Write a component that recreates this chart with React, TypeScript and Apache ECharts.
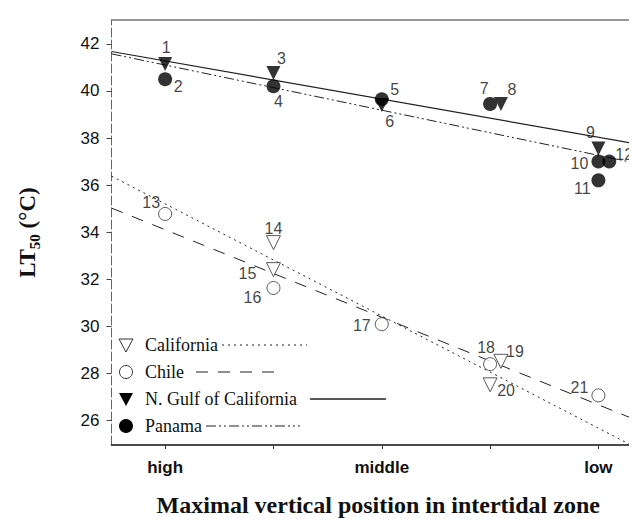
import React, { useEffect, useRef } from "react";
import * as echarts from "echarts";

// ---- data ----
const xCategories: Record<number, string> = { 1: "high", 3: "middle", 5: "low" };
const xTicks = [1, 2, 3, 4, 5];
const yTicks = [26, 28, 30, 32, 34, 36, 38, 40, 42];

// [x position, LT50, point id]
const california = [
  [2, 33.55, 14],
  [2, 32.4, 15],
  [4.1, 28.5, 19],
  [4, 27.5, 20],
];
const chile = [
  [1, 34.77, 13],
  [2, 31.62, 16],
  [3, 30.08, 17],
  [4, 28.38, 18],
  [5, 27.05, 21],
];
const nGulf = [
  [1, 41.15, 1],
  [2, 40.77, 3],
  [3, 39.4, 6],
  [4.1, 39.45, 8],
  [5, 37.55, 9],
];
const panama = [
  [1, 40.5, 2],
  [2, 40.2, 4],
  [3, 39.65, 5],
  [4, 39.45, 7],
  [5, 37.0, 10],
  [5, 36.2, 11],
  [5.1, 37.0, 12],
];

// regression lines (end points)
const californiaFit = [[0.505, 36.38], [5.3, 24.94]];
const chileFit = [[0.505, 35.02], [5.43, 25.85]];
const nGulfFit = [[0.505, 41.68], [5.43, 37.68]];
const panamaFit = [[0.505, 41.58], [5.43, 36.85]];

const seriesNames = ["California", "Chile", "N. Gulf of California", "Panama"];

// label offsets (style)
const labelOffsets: Record<number, [number, number]> = {
  1: [1, -16], 2: [13, 7], 3: [8, -14], 4: [5, 15], 5: [13, -10], 6: [8, 16],
  7: [-6, -15], 8: [11, -14], 9: [-8, -16], 10: [-19, 2], 11: [-16, 8], 12: [15, -7],
  13: [-14, -11], 14: [0, -14], 15: [-26, 4], 16: [-21, 10], 17: [-20, 1],
  18: [-4, -17], 19: [14, -10], 20: [16, 6], 21: [-19, -8],
};

const SANS = "Liberation Sans, Arial, sans-serif";
const SERIF = "Liberation Serif, Times New Roman, serif";
const INK = "#111";

function pts(arr: number[][]) {
  return arr.map((d) => ({
    value: [d[0], d[1]],
    label: {
      show: true,
      formatter: String(d[2]),
      position: "inside",
      offset: labelOffsets[d[2]],
      fontFamily: SANS,
      fontSize: 16,
      color: INK,
    },
  }));
}

export default function App() {
  const ref = useRef<HTMLDivElement>(null);
  useEffect(() => {
    if (!ref.current) return;
    const chart = echarts.init(ref.current, null, { renderer: "svg" });
    const xMin = 0.505, xMax = 5.43, yMin = 24.94, yMax = 43.02;

    const legendRows = [
      { y: 337, name: seriesNames[0], kind: "openTri", x1: 214, x2: 299, dash: [2, 4], w: 1 },
      { y: 364, name: seriesNames[1], kind: "openCircle", x1: 188, x2: 272, dash: [12, 10], w: 1 },
      { y: 391, name: seriesNames[2], kind: "tri", x1: 302, x2: 378, dash: null, w: 1.4 },
      { y: 418, name: seriesNames[3], kind: "circle", x1: 198, x2: 292, dash: [10, 3, 2, 3, 2, 3], w: 1 },
    ];
    const graphics: any[] = [];
    legendRows.forEach((r) => {
      const cx = 118;
      if (r.kind === "openTri" || r.kind === "tri") {
        graphics.push({
          type: "polygon",
          shape: { points: [[cx - 7, r.y - 6], [cx + 7, r.y - 6], [cx, r.y + 7]] },
          style: r.kind === "tri" ? { fill: "#000" } : { fill: "#fff", stroke: "#333", lineWidth: 1 },
        });
      } else {
        graphics.push({
          type: "circle",
          shape: { cx, cy: r.y, r: r.kind === "circle" ? 7 : 6.5 },
          style: r.kind === "circle" ? { fill: "#000" } : { fill: "#fff", stroke: "#333", lineWidth: 1 },
        });
      }
      graphics.push({
        type: "text",
        x: 137,
        y: r.y,
        style: { text: r.name, font: `18px ${SERIF}`, fill: INK, verticalAlign: "middle", textAlign: "left" },
      });
      graphics.push({
        type: "line",
        shape: { x1: r.x1, y1: r.y, x2: r.x2, y2: r.y },
        style: { stroke: "#222", lineWidth: r.w, lineDash: r.dash || undefined },
      });
    });

    const fitSeries = (name: string, data: number[][], type: any, width: number) => ({
      name: name + " fit",
      type: "line",
      data,
      symbol: "none",
      silent: true,
      lineStyle: { color: "#222", width, type },
      z: 1,
    });

    const scatter = (name: string, data: number[][], kind: string) => ({
      name,
      type: "scatter",
      data: pts(data),
      symbol: kind.includes("Tri") || kind === "tri" ? "triangle" : "circle",
      symbolRotate: kind.includes("Tri") || kind === "tri" ? 180 : 0,
      symbolSize: kind === "openCircle" ? 13 : 14,
      itemStyle:
        kind === "tri" || kind === "circle"
          ? { color: "#000" }
          : { color: "#fff", borderColor: "#333", borderWidth: 1 },
      z: 3,
    });

    chart.setOption({
      animation: false,
      backgroundColor: "#fff",
      grid: { left: 100, right: 0, top: 12, bottom: 82 },
      xAxis: [
        {
          type: "value",
          min: xMin,
          max: xMax,
          splitLine: { show: false },
          axisLine: { show: true, lineStyle: { color: "#111", width: 1.5 } },
          axisTick: { show: true, customValues: xTicks, length: 4, lineStyle: { color: "#333" } },
          axisLabel: {
            customValues: [1, 3, 5],
            formatter: (v: number) => xCategories[Math.round(v)] || "",
            fontFamily: SANS,
            fontWeight: "bold",
            fontSize: 17,
            color: INK,
            margin: 14,
          },
          name: "Maximal vertical position in intertidal zone",
          nameLocation: "middle",
          nameGap: 48,
          nameTextStyle: { fontFamily: SERIF, fontWeight: "bold", fontSize: 24, color: INK },
        },
        {
          type: "value",
          position: "top",
          min: xMin,
          max: xMax,
          splitLine: { show: false },
          axisLine: { show: true, lineStyle: { color: "#777", width: 1.5 } },
          axisTick: { show: false },
          axisLabel: { show: false },
        },
      ],
      yAxis: {
        type: "value",
        min: yMin,
        max: yMax,
        splitLine: { show: false },
        axisLine: { show: true, lineStyle: { color: "#666", width: 1, type: [9, 3] } },
        axisTick: { show: true, customValues: yTicks, length: 5, lineStyle: { color: "#444" } },
        axisLabel: { customValues: yTicks, fontFamily: SANS, fontSize: 17, color: INK, margin: 12 },
        name: "{b|LT}{s|50}{b| (°C)}",
        nameLocation: "middle",
        nameGap: 69,
        nameRotate: 90,
        nameTextStyle: {
          rich: {
            b: { fontFamily: SERIF, fontWeight: "bold", fontSize: 23, color: INK, lineHeight: 30 },
            s: { fontFamily: SERIF, fontWeight: "bold", fontSize: 15, color: INK, lineHeight: 15, verticalAlign: "bottom" },
          },
        },
      },
      series: [
        fitSeries("California", californiaFit, [2, 4], 1),
        fitSeries("Chile", chileFit, [12, 10], 1),
        fitSeries("N. Gulf of California", nGulfFit, "solid", 1.2),
        fitSeries("Panama", panamaFit, [10, 3, 2, 3, 2, 3], 1),
        scatter(seriesNames[0], california, "openTri"),
        scatter(seriesNames[1], chile, "openCircle"),
        scatter(seriesNames[2], nGulf, "tri"),
        scatter(seriesNames[3], panama, "circle"),
      ],
      graphic: graphics,
    });
    return () => chart.dispose();
  }, []);
  return <div ref={ref} style={{ width: 637, height: 519 }} />;
}
